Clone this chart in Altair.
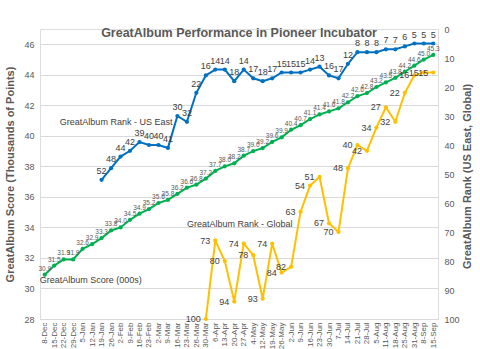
import altair as alt
import pandas as pd

dates = ["8-Dec", "15-Dec", "22-Dec", "29-Dec", "5-Jan", "12-Jan", "19-Jan", "26-Jan",
         "2-Feb", "9-Feb", "16-Feb", "23-Feb", "2-Mar", "9-Mar", "16-Mar", "23-Mar",
         "26-Mar", "30-Mar", "6-Apr", "13-Apr", "20-Apr", "27-Apr", "4-May", "12-May",
         "19-May", "26-May", "2-Jun", "9-Jun", "16-Jun", "23-Jun", "30-Jun", "7-Jul",
         "14-Jul", "21-Jul", "28-Jul", "5-Aug", "11-Aug", "18-Aug", "25-Aug", "31-Aug",
         "8-Sep", "15-Sep"]

score = [30.9, 31.5, 31.9, 31.9, 32.6, 32.9, 33.3, 33.8, 34.0, 34.5, 34.9, 35.2,
         35.6, 35.8, 36.2, 36.6, 36.8, 37.2, 37.7, 38.0, 38.2, 38.7, 39.0, 39.2,
         39.6, 39.9, 40.4, 40.7, 41.1, 41.4, 41.6, 41.8, 42.2, 42.6, 42.8, 43.2,
         43.5, 43.8, 44.2, 44.6, 45.0, 45.3]

us_east = [None, None, None, None, None, None,
           52, 48, 44, 42, 39, 40, 40, 41, 30, 32, 22,
           16, 14, 14, 18, 14, 17, 18, 17, 15, 15,
           15, 14, 13, 16, 17, 12, 8, 8, 8, 7, 7, 6, 5, 5, 5]

global_rank = [None] * 17 + [100, 73, 80, 94, 74, 78, 93, 74, 84, 82, 63, 54, 51, 67, 70,
                             48, 40, 42, 34, 27, 32, 22, 16, 15, 15]

series_names = ["US East", "Global"]
series_colors = ["#0070C0", "#FFC000"]
score_color = "#00B050"

FONT = "Liberation Sans"
GREY = "#595959"

score_df = pd.DataFrame({"date": dates, "score": score})
score_df["lbl"] = score_df["score"].map(lambda v: f"{v:.1f}")

rows = []
for d, u, g in zip(dates, us_east, global_rank):
    if u is not None:
        rows.append({"date": d, "series": "US East", "rank": u, "lbl": str(u)})
    if g is not None:
        rows.append({"date": d, "series": "Global", "rank": g, "lbl": str(g)})
rank_df = pd.DataFrame(rows)

score_name = pd.DataFrame([{"date": "8-Dec", "score": 30.9, "text": "GreatAlbum Score (000s)"}])
rank_names = pd.DataFrame([
    {"date": "16-Mar", "rank": 30, "text": "GreatAlbum Rank - US East"},
    {"date": "9-Jun", "rank": 63, "text": "GreatAlbum Rank - Global"},
])

x_enc = alt.X("date:O", sort=dates, scale=alt.Scale(type="point", padding=0.5),
              axis=alt.Axis(title=None, labelAngle=270, labelFontSize=8, labelColor=GREY,
                            labelFont=FONT, ticks=False, domain=True, domainColor="#d9d9d9",
                            labelPadding=3))

y_left = alt.Y("score:Q", scale=alt.Scale(domain=[28, 47], nice=False, zero=False),
               axis=alt.Axis(values=list(range(28, 47, 2)), title="GreatAlbum Score (Thousands of Points)",
                             grid=True, gridColor="#d9d9d9", domain=False, ticks=False,
                             labelFontSize=9, labelColor=GREY, labelFont=FONT, labelPadding=6,
                             titleFontSize=11, titleColor=GREY, titleFont=FONT, titleFontWeight="bold",
                             titlePadding=8))

y_right = alt.Y("rank:Q", scale=alt.Scale(domain=[0, 100], reverse=True, nice=False, zero=False),
                axis=alt.Axis(orient="right", values=list(range(0, 101, 10)),
                              title="GreatAlbum Rank (US East, Global)", titleAngle=270,
                              titleBaseline="middle", titleAlign="center",
                              titleX=29, titleY=147,
                              grid=False, domain=False, ticks=False,
                              labelFontSize=9, labelColor=GREY, labelFont=FONT, labelPadding=6,
                              titleFontSize=11, titleColor=GREY, titleFont=FONT, titleFontWeight="bold"))

color_enc = alt.Color("series:N", scale=alt.Scale(domain=series_names, range=series_colors), legend=None)

base_s = alt.Chart(score_df)
s_line = base_s.mark_line(color=score_color, strokeWidth=2).encode(x=x_enc, y=y_left)
s_pts = base_s.mark_circle(color=score_color, size=18, opacity=1).encode(x=x_enc, y=y_left)
s_txt = base_s.mark_text(fontSize=6.5, color=GREY, font=FONT, baseline="bottom", dy=-3).encode(
    x=x_enc, y=y_left, text="lbl:N")
s_name = alt.Chart(score_name).mark_text(fontSize=9, color="#404040", font=FONT, align="left",
                                         dx=-5, dy=5).encode(x=x_enc, y=y_left, text="text:N")
left = alt.layer(s_line, s_pts, s_txt, s_name)

base_r = alt.Chart(rank_df)
r_line = base_r.mark_line(strokeWidth=2).encode(x=x_enc, y=y_right, color=color_enc, detail="series:N")
r_pts = base_r.mark_circle(size=18, opacity=1).encode(x=x_enc, y=y_right, color=color_enc)
r_txt_us = base_r.transform_filter(alt.datum.series == "US East").mark_text(
    fontSize=9, color="#404040", font=FONT, baseline="bottom", dy=-4).encode(
    x=x_enc, y=y_right, text="lbl:N")
r_txt_gl = base_r.transform_filter(alt.datum.series == "Global").mark_text(
    fontSize=9, color="#404040", font=FONT, align="right", dx=-5).encode(
    x=x_enc, y=y_right, text="lbl:N")
base_n = alt.Chart(rank_names)
n_us = base_n.transform_filter(alt.datum.date == "16-Mar").mark_text(
    fontSize=9, color="#404040", font=FONT, align="right", dx=-5, dy=6).encode(
    x=x_enc, y=y_right, text="text:N")
n_gl = base_n.transform_filter(alt.datum.date == "9-Jun").mark_text(
    fontSize=9, color="#404040", font=FONT, align="right", dx=-8, dy=12).encode(
    x=x_enc, y=y_right, text="text:N")
right = alt.layer(r_line, r_pts, r_txt_us, r_txt_gl, n_us, n_gl)

chart = alt.layer(left, right).resolve_scale(y="independent").properties(
    width=398, height=290,
    title=alt.TitleParams("GreatAlbum Performance in Pioneer Incubator", fontSize=12.5,
                          font=FONT, fontWeight="bold", color=GREY, anchor="middle",
                          offset=-14),
    autosize=alt.AutoSizeParams(type="none"),
    padding={"left": 40, "top": 29, "right": 42, "bottom": 30},
).configure_view(stroke=None).configure(background="white")

chart.save("out.html", embed_options={"renderer": "svg", "actions": False})
